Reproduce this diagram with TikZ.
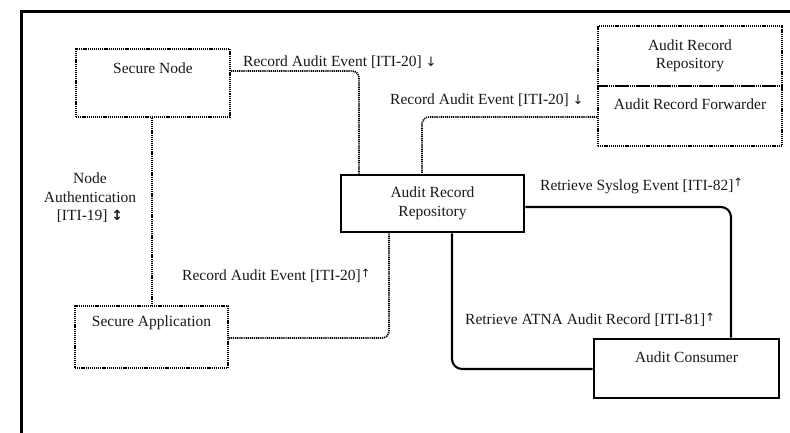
\documentclass[tikz,border=0pt]{standalone}
\usepackage{fontspec}
\setmainfont{Liberation Serif}
\newfontfamily\arrfont{DejaVu Sans}
\newcommand{\uparr}{{\arrfont\fontsize{11.5}{11.5}\selectfont\raisebox{3.5pt}{↑}}}
\newcommand{\downarr}{{\arrfont\fontsize{13}{13}\selectfont ↓}}
\newcommand{\updownarr}{{\arrfont\bfseries\fontsize{14}{14}\selectfont ↕}}
\begin{document}
\begin{tikzpicture}[x=1pt,y=-1pt,
  lbl/.style={font=\fontsize{15.5}{18.5}\selectfont, text=black!90, inner sep=0pt},
  dotbox/.style={draw, line width=1.6pt, dash pattern=on 1.2pt off 0.9pt, rectangle, inner sep=0pt, font=\fontsize{15.5}{18.5}\selectfont, text=black!90, align=center},
  solidbox/.style={draw, line width=2.8pt, rectangle, inner sep=0pt, font=\fontsize{15.5}{18.5}\selectfont, text=black!90, align=center},
  dotline/.style={line width=1.7pt, dash pattern=on 1.2pt off 0.9pt, rounded corners=7pt},
  solidline/.style={line width=2.1pt, rounded corners=10pt}]
\path[use as bounding box] (0,0) rectangle (790,433);
% frame
\draw[line width=3pt] (21,433) -- (21,12) -- (790,12);
% boxes
\node[dotbox, minimum width=154pt, minimum height=68pt] (sn) at (153,83) {};
\node[lbl] (snt) at (153,68) {Secure Node};
\node[dotbox, minimum width=153pt, minimum height=62pt] (sa) at (151.5,337) {};
\node[lbl] (sat) at (151.5,323) {Secure Application};
\node[dotbox, minimum width=184pt, minimum height=60pt] (arp) at (690,56) {Audit Record\\Repository};
\node[dotbox, minimum width=184pt, minimum height=60pt] (fwd) at (690,116) {};
\node[lbl] (fwdt) at (690,104) {Audit Record Forwarder};
\node[solidbox, minimum width=183pt, minimum height=57pt] (arr) at (432.5,203.5) {Audit Record\\Repository};
\node[solidbox, minimum width=185pt, minimum height=59pt] (cons) at (686.5,368.5) {};
\node[lbl] (const) at (686.5,357) {Audit Consumer};
% helper coordinates
\coordinate (c1) at (359,71);
\coordinate (c2) at (422,117);
\coordinate (c3) at (389,338);
\coordinate (c4) at (731,207);
\coordinate (c5) at (452,369);
% connectors
\draw[dotline] (sn.east |- c1) -| (arr.north -| c1);
\draw[dotline] (fwd.west |- c2) -| (arr.north -| c2);
\draw[dotline] (sn.south -| 152,0) -- (sa.north -| 152,0);
\draw[dotline] (sa.east |- c3) -| (arr.south -| c3);
\draw[solidline] (arr.east |- c4) -| (cons.north -| c4);
\draw[solidline] (arr.south -| c5) |- (cons.west |- c5);
% labels
\node[lbl, anchor=west] (l1) at (243,62) {Record Audit Event [ITI-20] \downarr};
\node[lbl, anchor=west] (l2) at (390,100) {Record Audit Event [ITI-20] \downarr};
\node[lbl, anchor=west] (l3) at (182,276) {Record Audit Event [ITI-20]\uparr};
\node[lbl, anchor=west] (l4) at (540,186) {Retrieve Syslog Event [ITI-82]\uparr};
\node[lbl, anchor=west] (l5) at (465,320) {Retrieve ATNA Audit Record [ITI-81]\uparr};
\node[lbl, align=center] (l6) at (90,198) {Node\\Authentication\\{}[ITI-19] \updownarr};
\end{tikzpicture}
\end{document}
